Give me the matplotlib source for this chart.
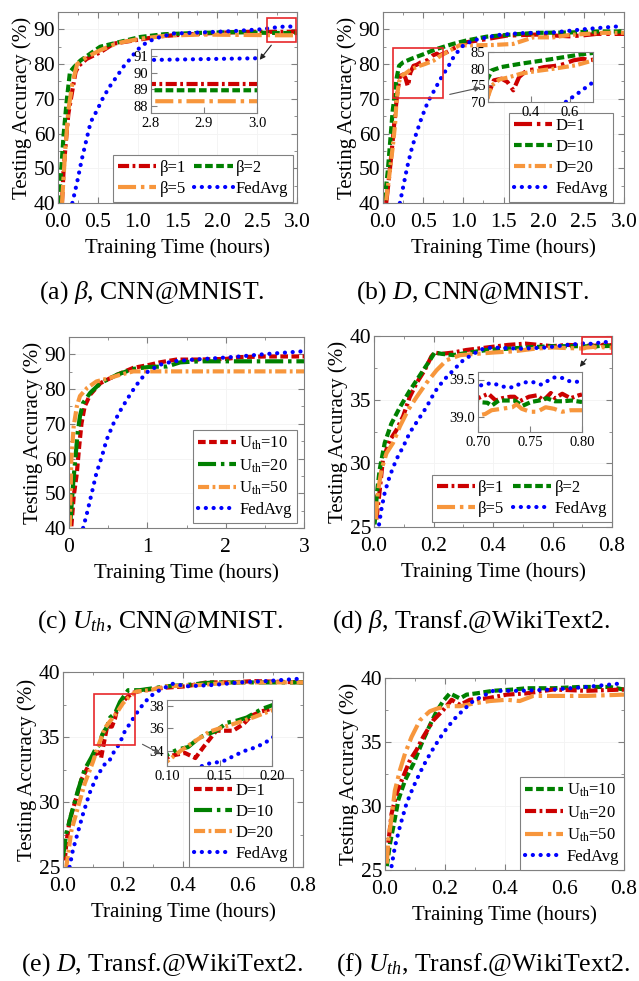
import matplotlib
matplotlib.use("Agg")
import matplotlib.pyplot as plt
from matplotlib.patches import Rectangle, FancyArrowPatch
from matplotlib.ticker import AutoMinorLocator, FormatStrFormatter

plt.rcParams['font.family'] = ['Liberation Serif', 'DejaVu Serif']
plt.rcParams['mathtext.fontset'] = 'custom'
plt.rcParams['mathtext.rm'] = 'Liberation Serif'
plt.rcParams['mathtext.it'] = 'Liberation Serif:italic'
plt.rcParams['mathtext.bf'] = 'Liberation Serif:bold'
plt.rcParams['lines.scale_dashes'] = False

W, H = 639, 981

# ---------------- (a) beta, CNN@MNIST ----------------
a_b1_t = [0.05, 0.07, 0.10, 0.13, 0.18, 0.22, 0.26, 0.36, 0.53, 0.70, 0.95, 1.28, 1.58, 2.00, 2.41, 2.80, 2.90, 3.00]
a_b1_acc = [40, 49.4, 58, 65.7, 72.4, 77.7, 79.5, 81.5, 83.4, 85.9, 86.8, 88.0, 88.5, 89.0, 89.3, 89.3, 89.3, 89.3]
a_b2_t = [0.01, 0.04, 0.07, 0.11, 0.15, 0.20, 0.28, 0.53, 0.78, 1.03, 1.33, 1.79, 2.20, 2.62, 2.80, 2.90, 3.00]
a_b2_acc = [40, 49.4, 59.5, 69.6, 77.7, 79.1, 81.0, 85.0, 86.4, 87.8, 88.6, 89.0, 89.2, 89.0, 88.95, 88.95, 88.95]
a_b5_t = [0.05, 0.09, 0.13, 0.18, 0.24, 0.36, 0.53, 0.74, 1.03, 1.37, 1.79, 2.29, 2.80, 2.90, 3.00]
a_b5_acc = [40, 55, 66.7, 74.4, 80, 82, 84, 86, 87.3, 88.2, 88.5, 88.4, 88.3, 88.3, 88.3]
a_fed_t = [0.18, 0.24, 0.30, 0.36, 0.41, 0.49, 0.57, 0.66, 0.74, 0.82, 0.91, 0.99, 1.12, 1.28, 1.45, 1.79, 2.20, 2.54, 2.80, 2.90, 3.00]
a_fed_acc = [40, 46, 52.7, 58.5, 63.3, 66.7, 70.5, 73.9, 76.5, 79.2, 81.6, 84, 86.4, 87.8, 88.8, 89.1, 89.5, 90.0, 90.75, 90.8, 90.85]

# ---------------- (b) D, CNN@MNIST ----------------
b_d1_t = [0.04, 0.08, 0.12, 0.15, 0.18, 0.21, 0.25, 0.28, 0.31, 0.34, 0.38, 0.42, 0.47, 0.52, 0.56, 0.62, 0.67, 0.70,
          0.80, 0.87, 1.04, 1.29, 1.54, 1.91, 2.15, 2.32, 2.50, 2.66, 3.00]
b_d1_acc = [40, 48.3, 57.8, 65.4, 72, 76.5, 77, 76, 73.5, 77.5, 79.5, 79.8, 80.5, 80.8, 81.2, 82.5, 83, 82.5,
            83.5, 84.4, 86.3, 87.2, 88.2, 88.5, 88.2, 88, 88.3, 88.7, 88.7]
b_d10_t = [0.02, 0.06, 0.09, 0.12, 0.17, 0.20, 0.25, 0.35, 0.50, 0.66, 0.87, 1.04, 1.29, 1.54, 1.91, 2.32, 2.66, 3.00]
b_d10_acc = [40.8, 49.3, 57.8, 66.4, 76, 79.5, 80.5, 81.5, 82.8, 84.3, 85.8, 86.8, 87.9, 88.4, 89.0, 89.1, 89.4, 89.4]
b_d20_t = [0.04, 0.06, 0.09, 0.12, 0.15, 0.17, 0.20, 0.24, 0.28, 0.35, 0.43, 0.52, 0.63, 0.71, 0.80, 0.95, 1.12, 1.37,
           1.62, 1.87, 2.12, 2.32, 2.53, 2.74, 3.00]
b_d20_acc = [40.8, 44.5, 50.2, 55.9, 62.6, 70, 75, 76.8, 77.3, 78.5, 79.3, 80, 81, 82.3, 83.5, 85.4, 85.4, 85.5,
             85.8, 87.7, 87.7, 88.4, 88.7, 89, 89]
b_fed_t = [0.21, 0.25, 0.30, 0.35, 0.41, 0.48, 0.56, 0.64, 0.71, 0.81, 0.89, 1.00, 1.12, 1.29, 1.45, 1.70, 2.12, 2.53, 2.95]
b_fed_acc = [40, 44.5, 50.2, 55, 59.7, 64.5, 69.2, 72.5, 75.5, 79.2, 82.5, 85.4, 86.8, 87.7, 88.4, 88.9, 89.1, 90.1, 90.9]

# ---------------- (c) U_th, CNN@MNIST ----------------
c_u10_t = [0.03, 0.06, 0.10, 0.13, 0.16, 0.20, 0.27, 0.40, 0.61, 0.82, 1.03, 1.16, 1.37, 1.67, 2.01, 2.18, 2.52, 3.00]
c_u10_acc = [40.5, 49.1, 55.8, 63.5, 70.2, 75, 78.4, 81.7, 84.1, 86.1, 87, 87.7, 88.5, 88.5, 88.7, 89.2, 89.4, 89.4]
c_u20_t = [0.02, 0.05, 0.08, 0.11, 0.14, 0.18, 0.27, 0.40, 0.61, 0.82, 1.03, 1.25, 1.42, 1.67, 2.10, 2.52, 3.00]
c_u20_acc = [42.4, 52, 59.7, 67.4, 72.2, 76, 78.9, 81.7, 84.1, 85.8, 86.4, 86.5, 87.7, 88, 88, 88, 88]
c_u50_t = [0.01, 0.02, 0.03, 0.06, 0.10, 0.14, 0.23, 0.35, 0.52, 0.65, 0.82, 1.03, 1.50, 2.00, 2.50, 3.00]
c_u50_acc = [40.5, 50, 59.7, 69.3, 75, 78, 80.3, 82.2, 83.2, 84.1, 85.1, 85.1, 85.1, 85.1, 85.1, 85.1]
c_fed_t = [0.18, 0.23, 0.29, 0.35, 0.42, 0.48, 0.57, 0.65, 0.74, 0.82, 0.91, 1.01, 1.16, 1.33, 1.59, 1.88, 2.18, 2.52, 3.00]
c_fed_acc = [40, 44.3, 50, 55.8, 60.6, 65.4, 70.2, 73.6, 77, 79.8, 82.7, 85.1, 87, 88, 88.5, 88.9, 89.4, 90.1, 90.9]

# ---------------- (d) beta, Transf.@WikiText2 ----------------
d_b1_t = [0.008, 0.017, 0.03, 0.053, 0.075, 0.098, 0.12, 0.143, 0.17, 0.193, 0.204, 0.227, 0.266, 0.31, 0.38, 0.45,
          0.51, 0.60, 0.65, 0.70, 0.71, 0.717, 0.723, 0.731, 0.735, 0.74, 0.749, 0.757, 0.763, 0.77, 0.774, 0.781,
          0.789, 0.797, 0.80]
d_b1_acc = [25.6, 27.4, 30.3, 31.8, 32.6, 33.7, 35.2, 36.3, 37.3, 38.4, 38.7, 38.6, 38.7, 38.9, 39.1, 39.3,
            39.4, 39.2, 39.3, 39.25, 39.31, 39.22, 39.25, 39.27, 39.27, 39.21, 39.27, 39.29, 39.22, 39.32, 39.25, 39.31,
            39.25, 39.29, 39.3]
d_b2_t = [0.002, 0.01, 0.019, 0.036, 0.058, 0.087, 0.12, 0.154, 0.188, 0.204, 0.227, 0.266, 0.32, 0.38, 0.45, 0.51,
          0.60, 0.65, 0.70, 0.709, 0.713, 0.72, 0.728, 0.735, 0.743, 0.751, 0.759, 0.766, 0.774, 0.782, 0.79, 0.80]
d_b2_acc = [25.2, 27.7, 29.5, 31.6, 33.1, 34.4, 35.7, 36.9, 38.1, 38.7, 38.6, 38.5, 38.7, 38.9, 39.0, 39.1,
            39.2, 39.2, 39.2, 39.19, 39.15, 39.22, 39.22, 39.22, 39.15, 39.2, 39.22, 39.25, 39.21, 39.21, 39.22, 39.2]
d_b5_t = [0.006, 0.013, 0.025, 0.042, 0.064, 0.087, 0.115, 0.143, 0.176, 0.21, 0.244, 0.29, 0.345, 0.40, 0.47, 0.54,
          0.60, 0.65, 0.70, 0.707, 0.713, 0.723, 0.733, 0.737, 0.742, 0.75, 0.757, 0.765, 0.773, 0.781, 0.789, 0.80]
d_b5_acc = [25.6, 27.7, 29.5, 30.8, 31.6, 32.9, 34.2, 35.2, 36.3, 37.3, 38.1, 38.5, 38.6, 38.7, 38.8, 39.0,
            39.1, 39.05, 39.02, 39.04, 39.09, 39.11, 39.13, 39.17, 39.11, 39.07, 39.07, 39.13, 39.11, 39.07, 39.09, 39.09]
d_fed_t = [0.017, 0.025, 0.036, 0.053, 0.075, 0.098, 0.12, 0.148, 0.176, 0.204, 0.233, 0.266, 0.30, 0.334, 0.367,
           0.40, 0.49, 0.58, 0.65, 0.70, 0.707, 0.714, 0.721, 0.728, 0.735, 0.741, 0.749, 0.755, 0.761, 0.768, 0.774,
           0.781, 0.787, 0.794, 0.80]
d_fed_acc = [25.2, 26.4, 27.7, 29, 30.3, 31.3, 32.4, 33.4, 34.4, 35.6, 36.5, 37.3, 38.1, 38.6, 39.0,
             39.1, 39.0, 39.1, 39.3, 39.41, 39.44, 39.45, 39.42, 39.39, 39.40, 39.45, 39.47, 39.46, 39.43, 39.49, 39.53,
             39.52, 39.48, 39.47, 39.47]

# ---------------- (e) D, Transf.@WikiText2 ----------------
e_d1_t = [0.006, 0.011, 0.022, 0.039, 0.061, 0.083, 0.104, 0.117, 0.127, 0.135, 0.147, 0.163, 0.173, 0.18, 0.19,
          0.211, 0.233, 0.267, 0.344, 0.411, 0.478, 0.567, 0.633, 0.80]
e_d1_acc = [25.5, 26.8, 28.6, 29.9, 31.7, 32.7, 33.6, 33.85, 33.4, 34.4, 35.8, 35.8, 36.4, 37.1, 37.5,
            38, 38.4, 38.6, 38.8, 38.9, 39.2, 39.2, 39.3, 39.2]
e_d10_t = [0.0, 0.011, 0.028, 0.05, 0.072, 0.094, 0.11, 0.12, 0.131, 0.147, 0.157, 0.167, 0.176, 0.19, 0.217, 0.256,
           0.344, 0.411, 0.50, 0.589, 0.80]
e_d10_acc = [25.8, 27.6, 29.1, 30.9, 32.5, 33.4, 34.15, 34.36, 35.2, 35.8, 36.5, 36.7, 36.96, 37.7, 38.6, 38.6,
             38.9, 39.0, 39.2, 39.2, 39.2]
e_d20_t = [0.011, 0.028, 0.05, 0.072, 0.10, 0.114, 0.127, 0.14, 0.153, 0.167, 0.183, 0.20, 0.217, 0.244, 0.289,
           0.344, 0.456, 0.567, 0.80]
e_d20_acc = [25, 27.8, 29.6, 31.4, 33.1, 34.1, 34.9, 35.7, 36.1, 36.5, 37.0, 37.6, 38.0, 38.5, 38.6,
             38.9, 39.0, 39.2, 39.2]
e_fed_t = [0.022, 0.033, 0.05, 0.067, 0.089, 0.111, 0.139, 0.153, 0.163, 0.173, 0.183, 0.193, 0.20, 0.222, 0.256,
           0.289, 0.322, 0.367, 0.411, 0.50, 0.589, 0.678, 0.80]
e_fed_acc = [25, 26.3, 27.7, 29.1, 30.7, 31.9, 32.9, 33.1, 33.55, 34, 34.3, 34.7, 35.2, 36.0, 37.2,
             38.1, 38.6, 39.1, 38.9, 39.0, 39.2, 39.3, 39.5]

# ---------------- (f) U_th, Transf.@WikiText2 ----------------
f_u10_t = [0.006, 0.017, 0.028, 0.045, 0.067, 0.095, 0.123, 0.15, 0.173, 0.195, 0.217, 0.251, 0.273, 0.306, 0.362,
           0.429, 0.474, 0.563, 0.652, 0.752, 0.80]
f_u10_acc = [25.3, 27.1, 28.4, 30.5, 32, 33.3, 34.9, 36.3, 37.4, 38.2, 38.8, 38.4, 38.7, 38.8, 39,
             39.1, 39.2, 39.2, 39.3, 39.3, 39.1]
f_u20_t = [0.006, 0.011, 0.022, 0.039, 0.061, 0.084, 0.106, 0.128, 0.162, 0.195, 0.223, 0.251, 0.284, 0.34, 0.407,
           0.474, 0.563, 0.674, 0.80]
f_u20_acc = [26.0, 27.1, 29.4, 31, 32.3, 33.6, 34.4, 35.4, 36.7, 37.5, 38.3, 37.9, 38.3, 38.4, 38.7,
             38.8, 39.1, 39.0, 39.1]
f_u50_t = [0.006, 0.011, 0.022, 0.033, 0.05, 0.067, 0.089, 0.117, 0.15, 0.173, 0.206, 0.251, 0.295, 0.351, 0.407,
           0.451, 0.496, 0.563, 0.674, 0.80]
f_u50_acc = [25.5, 27.3, 29.1, 31.2, 32.8, 34.1, 35.4, 36.7, 37.4, 37.6, 37.8, 37.8, 38.0, 38.2, 38.3,
             38.2, 38.6, 38.6, 38.6, 38.7]
f_fed_t = [0.022, 0.033, 0.05, 0.072, 0.095, 0.117, 0.139, 0.167, 0.195, 0.228, 0.262, 0.295, 0.329, 0.362, 0.451,
           0.563, 0.674, 0.80]
f_fed_acc = [25.3, 26.8, 28.4, 30.2, 31.5, 32.6, 33.6, 34.7, 35.7, 36.7, 37.5, 38.2, 38.6, 39, 39,
             39.1, 39.3, 39.6]

RED, GREEN, ORANGE, BLUE = '#CC0000', '#008000', '#F7963C', '#0000FF'
DASH = (0, (5.5, 2.5))
DASHDOT = (0, (8, 2.5, 2, 2.5))
LONGDD = (0, (13, 3.5, 2.5, 3.5))
DOT = (0, (0.1, 5.5))
SPINE = '#808080'

fig = plt.figure(figsize=(W / 100, H / 100), dpi=100)


def box(l, t, r, b):
    return [l / W, 1 - b / H, (r - l) / W, (b - t) / H]


def fpt(x, y):
    return (x / W, 1 - y / H)


def draw(ax, series, lw=3.0):
    lines = []
    for t, v, c, ls, lab in series:
        ln, = ax.plot(t, v, color=c, linestyle=ls, lw=lw, label=lab,
                      dash_capstyle='round' if ls is DOT else 'butt')
        lines.append(ln)
    return lines


def style(ax, xlim, ylim, xt, yt, xfmt, fs=15.5, xpad=7):
    ax.set_xlim(xlim)
    ax.set_ylim(ylim)
    ax.set_xticks(xt)
    ax.set_yticks(yt)
    if xfmt:
        ax.xaxis.set_major_formatter(FormatStrFormatter(xfmt))
    ax.xaxis.set_minor_locator(AutoMinorLocator(2))
    ax.yaxis.set_minor_locator(AutoMinorLocator(2))
    ax.tick_params(which='both', direction='in', top=True, right=True, labelsize=fs, color=SPINE)
    ax.tick_params(which='major', length=4)
    ax.tick_params(which='minor', length=2)
    ax.tick_params(axis='x', pad=xpad)
    ax.tick_params(axis='y', pad=2)
    for s in ax.spines.values():
        s.set_color(SPINE)
        s.set_linewidth(0.8)
    ax.grid(True, color='#f3f3f3', lw=0.6)
    ax.set_axisbelow(True)


def panel(b, series, xlim, ylim, xt, yt, xfmt, leg_anchor, ncol=1):
    ax = fig.add_axes(box(*b))
    lines = draw(ax, series)
    style(ax, xlim, ylim, xt, yt, xfmt)
    ax.set_xlabel('Training Time (hours)', fontsize=15, labelpad=5)
    ax.set_ylabel('Testing Accuracy (%)', fontsize=15, labelpad=1)
    if ncol == 2:
        # row-wise order: 1st, 2nd on top row
        lines = [lines[0], lines[2], lines[1], lines[3]]
    lg = ax.legend(handles=lines, loc='lower right', bbox_to_anchor=leg_anchor, ncol=ncol, fontsize=12,
                   handlelength=2.3, handletextpad=0.2, labelspacing=0.3, columnspacing=0.5,
                   borderaxespad=0, borderpad=0.3, fancybox=False, framealpha=1, edgecolor=SPINE)
    lg.get_frame().set_linewidth(0.8)
    return ax


def inset(b, series, xlim, ylim, xt, yt, xfmt):
    ax = fig.add_axes(box(*b))
    draw(ax, series, lw=3.0)
    style(ax, xlim, ylim, xt, yt, xfmt, fs=10.5, xpad=3)
    ax.grid(False)
    ax.tick_params(which='both', top=False, right=False)
    ax.tick_params(which='minor', length=0)
    return ax


def arrow(p0, p1, color='#222222'):
    fig.add_artist(FancyArrowPatch(fpt(*p0), fpt(*p1), transform=fig.transFigure,
                                   arrowstyle='-|>', mutation_scale=8, lw=0.8, color=color))


def rect(ax, x, y, w, h):
    ax.add_patch(Rectangle((x, y), w, h, fill=False, ec='#E8282B', lw=1.2, zorder=5))


# (a)
sa = [(a_b1_t, a_b1_acc, RED, DASHDOT, 'β=1'), (a_b2_t, a_b2_acc, GREEN, DASH, 'β=2'),
      (a_b5_t, a_b5_acc, ORANGE, LONGDD, 'β=5'), (a_fed_t, a_fed_acc, BLUE, DOT, 'FedAvg')]
ax = panel((58, 12, 297, 203), sa, (0, 3), (40, 95), [0, 0.5, 1, 1.5, 2, 2.5, 3], range(40, 91, 10),
           '%.1f', (0.985, 0.005), ncol=2)
rect(ax, 2.62, 86.3, 0.37, 7.1)
inset((151, 49, 257, 113), sa, (2.8, 3.0), (87.6, 91.4), [2.8, 2.9, 3.0], [88, 89, 90, 91], '%.1f')
arrow((273, 43), (258, 62))

# (b)
sb = [(b_d1_t, b_d1_acc, RED, LONGDD, 'D=1'), (b_d10_t, b_d10_acc, GREEN, DASH, 'D=10'),
      (b_d20_t, b_d20_acc, ORANGE, DASHDOT, 'D=20'), (b_fed_t, b_fed_acc, BLUE, DOT, 'FedAvg')]
ax = panel((383, 12, 624, 203), sb, (0, 3), (40, 95), [0, 0.5, 1, 1.5, 2, 2.5, 3], range(40, 91, 10),
           '%.1f', (0.954, 0.005))
rect(ax, 0.12, 70.1, 0.63, 14.5)
inset((488, 52, 593, 102), sb, (0.18, 0.72), (70, 85), [0.4, 0.6], [70, 75, 80, 85], '%.1f')
arrow((447, 95), (483, 87), color='#555555')

# (c)
sc = [(c_u10_t, c_u10_acc, RED, DASH, 'U$_{\\mathrm{th}}$=10'),
      (c_u20_t, c_u20_acc, GREEN, LONGDD, 'U$_{\\mathrm{th}}$=20'),
      (c_u50_t, c_u50_acc, ORANGE, DASHDOT, 'U$_{\\mathrm{th}}$=50'),
      (c_fed_t, c_fed_acc, BLUE, DOT, 'FedAvg')]
panel((69, 337, 304, 528), sc, (0, 3), (40, 95), [0, 1, 2, 3], range(40, 91, 10), None, (0.97, 0.026))

# (d)
sd = [(d_b1_t, d_b1_acc, RED, DASHDOT, 'β=1'), (d_b2_t, d_b2_acc, GREEN, DASH, 'β=2'),
      (d_b5_t, d_b5_acc, ORANGE, LONGDD, 'β=5'), (d_fed_t, d_fed_acc, BLUE, DOT, 'FedAvg')]
ax = panel((374, 336, 612, 527), sd, (0, 0.8), (25, 40), [0, 0.2, 0.4, 0.6, 0.8], [25, 30, 35, 40],
           '%.1f', (1.0, 0.026), ncol=2)
rect(ax, 0.70, 38.62, 0.10, 1.3)
ins = inset((478, 372, 582, 432), sd, (0.70, 0.80), (38.8, 39.6), [0.70, 0.75, 0.80], [39.0, 39.5], None)
ins.xaxis.set_major_formatter(FormatStrFormatter('%.2f'))
ins.yaxis.set_major_formatter(FormatStrFormatter('%.1f'))
arrow((588, 357), (578, 369))

# (e)
se = [(e_d1_t, e_d1_acc, RED, DASH, 'D=1'), (e_d10_t, e_d10_acc, GREEN, LONGDD, 'D=10'),
      (e_d20_t, e_d20_acc, ORANGE, DASHDOT, 'D=20'), (e_fed_t, e_fed_acc, BLUE, DOT, 'FedAvg')]
ax = panel((63, 672, 303, 867), se, (0, 0.8), (25, 40), [0, 0.2, 0.4, 0.6, 0.8], [25, 30, 35, 40],
           '%.1f', (0.958, 0.0))
rect(ax, 0.103, 34.4, 0.137, 3.9)
ins = inset((167, 700, 272, 766), se, (0.10, 0.20), (32.7, 38.5), [0.10, 0.15, 0.20], [34, 36, 38], None)
ins.xaxis.set_major_formatter(FormatStrFormatter('%.2f'))
arrow((140, 743), (163, 755), color='#555555')

# (f)
sf = [(f_u10_t, f_u10_acc, GREEN, DASH, 'U$_{\\mathrm{th}}$=10'),
      (f_u20_t, f_u20_acc, RED, DASHDOT, 'U$_{\\mathrm{th}}$=20'),
      (f_u50_t, f_u50_acc, ORANGE, LONGDD, 'U$_{\\mathrm{th}}$=50'),
      (f_fed_t, f_fed_acc, BLUE, DOT, 'FedAvg')]
panel((385, 678, 624, 870), sf, (0, 0.8), (25, 40), [0, 0.2, 0.4, 0.6, 0.8], [25, 30, 35, 40],
      '%.1f', (1.0, 0.0))

# captions
caps = [(152, 293, '(a) $\\beta$, CNN@MNIST.'), (472, 293, '(b) $D$, CNN@MNIST.'),
        (160, 622, '(c) $U_{th}$, CNN@MNIST.'), (471, 622, '(d) $\\beta$, Transf.@WikiText2.'),
        (162, 965, '(e) $D$, Transf.@WikiText2.'), (483, 965, '(f) $U_{th}$, Transf.@WikiText2.')]
for x, y, s in caps:
    fig.text(x / W, 1 - y / H, s, ha='center', va='center', fontsize=18.5)

fig.savefig('out.png', dpi=100)
